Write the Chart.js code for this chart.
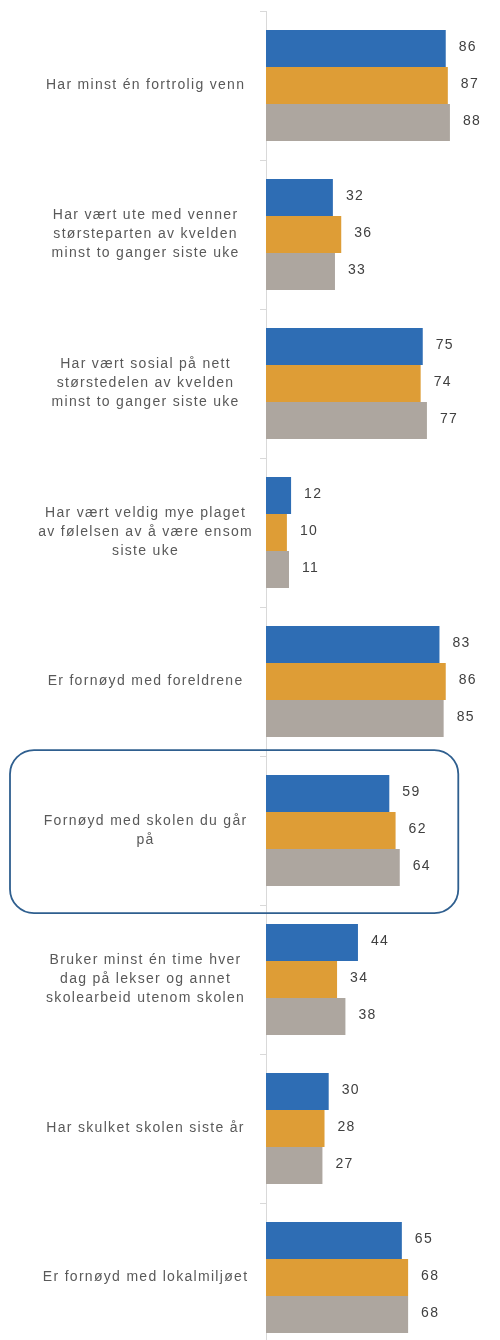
<!DOCTYPE html>
<html>
<head>
<meta charset="utf-8">
<script src="https://cdn.jsdelivr.net/npm/chart.js@4"></script>
<style>
  body { margin: 0; background: #fff; }
  #clip { width: 500px; height: 1340px; overflow: hidden; }
  #wrap { width: 500px; height: 1352px; position: relative; }
</style>
</head>
<body>
<div id="clip"><div id="wrap"><canvas id="chart"></canvas></div></div>
<script>
const categories = [
  ['Har minst én fortrolig venn'],
  ['Har vært ute med venner', 'størsteparten av kvelden', 'minst to ganger siste uke'],
  ['Har vært sosial på nett', 'størstedelen av kvelden', 'minst to ganger siste uke'],
  ['Har vært veldig mye plaget', 'av følelsen av å være ensom', 'siste uke'],
  ['Er fornøyd med foreldrene'],
  ['Fornøyd med skolen du går', 'på'],
  ['Bruker minst én time hver', 'dag på lekser og annet', 'skolearbeid utenom skolen'],
  ['Har skulket skolen siste år'],
  ['Er fornøyd med lokalmiljøet']
];
const seriesA = [86, 32, 75, 12, 83, 59, 44, 30, 65];
const seriesB = [87, 36, 74, 10, 86, 62, 34, 28, 68];
const seriesC = [88, 33, 77, 11, 85, 64, 38, 27, 68];
const highlightIndex = 5;

// wider letter spacing, like the original rendering
const spacing = {
  id: 'spacing',
  beforeLayout(chart) { chart.ctx.letterSpacing = '1.3px'; },
  beforeDraw(chart) { chart.ctx.letterSpacing = '1.3px'; }
};

const valueLabels = {
  id: 'valueLabels',
  afterDatasetsDraw(chart) {
    const ctx = chart.ctx;
    ctx.save();
    ctx.font = '14px "Liberation Sans", Arial, sans-serif';
    ctx.fillStyle = '#404040';
    ctx.textAlign = 'left';
    ctx.textBaseline = 'middle';
    chart.data.datasets.forEach((ds, i) => {
      chart.getDatasetMeta(i).data.forEach((bar, j) => {
        ctx.fillText(ds.data[j], bar.x + 13, bar.y - 1);
      });
    });
    ctx.restore();
  }
};

const highlightBox = {
  id: 'highlightBox',
  afterDraw(chart) {
    const y = chart.scales.y, x = chart.scales.x;
    const c = y.getPixelForValue(highlightIndex);
    const band = y.getPixelForValue(1) - y.getPixelForValue(0);
    const top = c - band * 0.54, bottom = c + band * 0.555;
    const left = 10, right = x.getPixelForValue(92);
    const ctx = chart.ctx;
    ctx.save();
    ctx.strokeStyle = '#2f5f8f';
    ctx.lineWidth = 1.8;
    ctx.beginPath();
    ctx.roundRect(left, top, right - left, bottom - top, 24);
    ctx.stroke();
    ctx.restore();
  }
};

new Chart(document.getElementById('chart'), {
  type: 'bar',
  data: {
    labels: categories,
    datasets: [
      { label: 'A', data: seriesA, backgroundColor: '#2e6db4' },
      { label: 'B', data: seriesB, backgroundColor: '#de9d36' },
      { label: 'C', data: seriesC, backgroundColor: '#ada69f' }
    ]
  },
  options: {
    indexAxis: 'y',
    responsive: true,
    maintainAspectRatio: false,
    animation: false,
    datasets: { bar: { categoryPercentage: 0.745, barPercentage: 1 } },
    layout: { padding: { top: 11, right: 25, bottom: 0, left: 0 } },
    plugins: {
      legend: { display: false },
      tooltip: { enabled: false }
    },
    scales: {
      x: { display: false, min: 0, max: 100 },
      y: {
        afterFit(scale) {
          scale.width = 266;
          scale.paddingTop = 0;
          scale.paddingBottom = 0;
        },
        grid: {
          offset: true,
          drawOnChartArea: false,
          drawTicks: true,
          tickLength: 6,
          color: '#d9d9d9'
        },
        border: { display: true, color: '#d9d9d9', width: 1 },
        ticks: {
          autoSkip: false,
          padding: 7,
          crossAlign: 'center',
          color: '#595959',
          font: { family: "'Liberation Sans', Arial, sans-serif", size: 14, lineHeight: 1.36 }
        }
      }
    }
  },
  plugins: [spacing, valueLabels, highlightBox]
});
</script>
</body>
</html>
